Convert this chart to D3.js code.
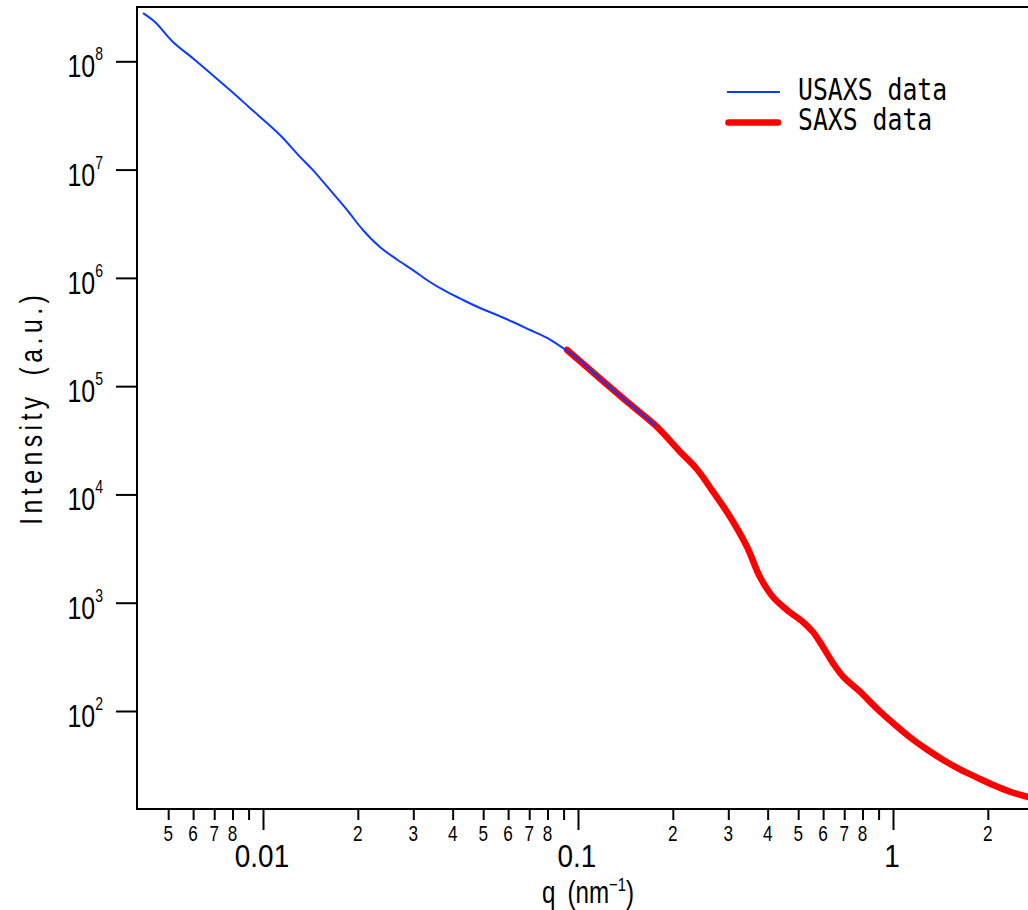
<!DOCTYPE html>
<html>
<head>
<meta charset="utf-8">
<script src="https://cdn.jsdelivr.net/npm/d3@7"></script>
<style>
  html, body { margin: 0; padding: 0; background: #ffffff; }
  svg { display: block; }
</style>
</head>
<body>
<div id="chart"></div>
<script>
// ---------------- data ----------------
const usaxsQ = [0.00416, 0.00454, 0.00518, 0.00608, 0.00785, 0.00909, 0.01132, 0.01311, 0.01441,
  0.01632, 0.01848, 0.02076, 0.02351, 0.02663, 0.02993, 0.03389, 0.03839, 0.04314, 0.04886,
  0.05532, 0.06219, 0.07045, 0.07976, 0.08958, 0.0993, 0.1174, 0.1441, 0.1768];
const usaxsI = [2.79e8, 2.31e8, 1.51e8, 1.03e8, 5.43e7, 3.71e7, 2.09e7, 1.31e7, 9.9e6,
  6.49e6, 4.24e6, 2.77e6, 1.93e6, 1.478e6, 1.18e6, 9.16e5, 7.41e5, 6.25e5, 5.27e5,
  4.54e5, 3.91e5, 3.30e5, 2.79e5, 2.25e5, 1.82e5, 1.177e5, 7.06e4, 4.29e4];

const saxsQ = [0.0923, 0.1174, 0.1441, 0.1768, 0.2109, 0.2387, 0.2683, 0.3038, 0.3439,
  0.3782, 0.4159, 0.4607, 0.5179, 0.5572, 0.5995, 0.6449, 0.6955, 0.7856, 0.8876, 1.002,
  1.132, 1.279, 1.444, 1.632, 1.844, 2.082, 2.352, 2.658, 2.9];
const saxsI = [2.16e5, 1.177e5, 7.06e4, 4.29e4, 2.48e4, 1.71e4, 1.06e4, 6.23e3, 3.29e3,
  1728, 1129, 857, 664, 536, 390, 277, 207, 150.7, 105.9, 76.97,
  57.2, 44.3, 35.3, 28.9, 24.4, 20.7, 17.97, 16.2, 15.1];

const seriesNames = ["USAXS data", "SAXS data"];
const yTickValues = [1e2, 1e3, 1e4, 1e5, 1e6, 1e7, 1e8];
const yTickExponents = ["2", "3", "4", "5", "6", "7", "8"];
const xMajorTicks = [0.01, 0.1, 1];
const xMajorLabels = ["0.01", "0.1", "1"];
const xMinorMultipliers = [2, 3, 4, 5, 6, 7, 8, 9];
const xMinorLabelled = [2, 3, 4, 5, 6, 7, 8];
const xDecades = [0.001, 0.01, 0.1, 1];
const xTitleMain = "q\u2002(nm";
const xTitleSup = "\u22121";
const yTitle = "Intensity\u2002(a.u.)";

// ---------------- layout ----------------
const W = 1028, H = 910;
const pLeft = 137, pTop = 7, pRight = 1028, pBottom = 809;
const xDomain = [Math.pow(10, -2.4), Math.pow(10, 0.42857)];
const yDomain = [Math.pow(10, 1.0949), Math.pow(10, 8.5016)];
const SX = 0.78;
const numFont = "'Liberation Sans', Arial, sans-serif";

const svg = d3.select("#chart").append("svg")
  .attr("width", W).attr("height", H)
  .attr("viewBox", `0 0 ${W} ${H}`);

const x = d3.scaleLog().domain(xDomain).range([pLeft, pRight]);
const y = d3.scaleLog().domain(yDomain).range([pBottom, pTop]);

svg.append("defs").append("clipPath").attr("id", "plotclip")
  .append("rect").attr("x", pLeft).attr("y", pTop).attr("width", pRight - pLeft + 20).attr("height", pBottom - pTop);

// ---------------- y axis ----------------
const yAxis = d3.axisLeft(y).tickValues(yTickValues).tickSize(21).tickFormat("");
const yg = svg.append("g").attr("transform", `translate(${pLeft},0)`).call(yAxis);
yg.select(".domain").remove();
yg.selectAll(".tick line").attr("stroke", "#000").attr("stroke-width", 2);

yTickValues.forEach((v, i) => {
  const g = svg.append("g").attr("transform", `translate(103,${y(v) + 16}) scale(${SX},1)`);
  const t = g.append("text").attr("text-anchor", "end")
    .attr("font-family", numFont).attr("fill", "#000");
  t.append("tspan").attr("font-size", 32).text("10");
  t.append("tspan").attr("font-size", 18).attr("dy", -17).text(yTickExponents[i]);
});

// ---------------- x axis ----------------
const minorVals = [];
xDecades.forEach(d => xMinorMultipliers.forEach(m => {
  const v = d * m;
  if (x(v) > pLeft + 4 && v < xDomain[1]) minorVals.push({ v, m });
}));

const xAxisMajor = d3.axisBottom(x).tickValues(xMajorTicks).tickSize(21).tickFormat("");
const xg = svg.append("g").attr("transform", `translate(0,${pBottom})`).call(xAxisMajor);
xg.select(".domain").remove();
xg.selectAll(".tick line").attr("stroke", "#000").attr("stroke-width", 2);

const xAxisMinor = d3.axisBottom(x).tickValues(minorVals.map(d => d.v)).tickSize(11).tickFormat("");
const xgm = svg.append("g").attr("transform", `translate(0,${pBottom})`).call(xAxisMinor);
xgm.select(".domain").remove();
xgm.selectAll(".tick line").attr("stroke", "#000").attr("stroke-width", 2);

minorVals.filter(d => xMinorLabelled.includes(d.m)).forEach(d => {
  svg.append("g").attr("transform", `translate(${x(d.v)},841) scale(${SX},1)`)
    .append("text").attr("text-anchor", "middle").attr("font-family", numFont)
    .attr("font-size", 22).attr("fill", "#000").text(String(d.m));
});

xMajorTicks.forEach((v, i) => {
  svg.append("g").attr("transform", `translate(${x(v) - 1},867) scale(0.9,1)`)
    .append("text").attr("text-anchor", "middle").attr("font-family", numFont)
    .attr("font-size", 31).attr("fill", "#000").text(xMajorLabels[i]);
});

// ---------------- frame ----------------
svg.append("line").attr("x1", pLeft).attr("x2", pRight).attr("y1", pTop).attr("y2", pTop)
  .attr("stroke", "#000").attr("stroke-width", 2);
svg.append("line").attr("x1", pLeft).attr("x2", pLeft).attr("y1", pTop - 1).attr("y2", pBottom + 1)
  .attr("stroke", "#000").attr("stroke-width", 2);
svg.append("line").attr("x1", pLeft - 1).attr("x2", pRight).attr("y1", pBottom).attr("y2", pBottom)
  .attr("stroke", "#000").attr("stroke-width", 2);

// ---------------- titles ----------------
const xt = svg.append("g").attr("transform", `translate(588,903) scale(${SX},1)`)
  .append("text").attr("text-anchor", "middle").attr("font-family", numFont).attr("fill", "#000");
xt.append("tspan").attr("font-size", 31).text(xTitleMain);
xt.append("tspan").attr("font-size", 19).attr("dy", -12).text(xTitleSup);
xt.append("tspan").attr("font-size", 31).attr("dy", 12).text(")");

svg.append("g").attr("transform", `translate(42,410) rotate(-90) scale(0.8,1)`)
  .append("text").attr("text-anchor", "middle").attr("font-family", numFont)
  .attr("font-size", 31).attr("fill", "#000")
  .attr("textLength", 287).attr("lengthAdjust", "spacing")
  .text(yTitle);

// ---------------- data lines ----------------
const line = d3.line().x(d => x(d[0])).y(d => y(d[1])).curve(d3.curveCatmullRom.alpha(0.5));
const usaxs = usaxsQ.map((q, i) => [q, usaxsI[i]]);
const saxs = saxsQ.map((q, i) => [q, saxsI[i]]);

const plot = svg.append("g").attr("clip-path", "url(#plotclip)");
plot.append("path").datum(saxs).attr("d", line)
  .attr("fill", "none").attr("stroke", "#ff0000").attr("stroke-width", 6.5)
  .attr("stroke-linecap", "round").attr("stroke-linejoin", "round");
plot.append("path").datum(usaxs).attr("d", line)
  .attr("fill", "none").attr("stroke", "#0a3cff").attr("stroke-width", 2)
  .attr("stroke-linejoin", "round");

// ---------------- legend ----------------
const legendFont = "'DejaVu Sans Mono', 'Liberation Mono', monospace";
svg.append("line").attr("x1", 727).attr("x2", 780).attr("y1", 92).attr("y2", 92)
  .attr("stroke", "#0a3cff").attr("stroke-width", 2);
svg.append("line").attr("x1", 728.5).attr("x2", 778).attr("y1", 122.5).attr("y2", 122.5)
  .attr("stroke", "#ff0000").attr("stroke-width", 6.5).attr("stroke-linecap", "round");
svg.append("g").attr("transform", `translate(798,100) scale(0.84,1)`)
  .append("text").attr("font-family", legendFont).attr("font-size", 29.5).attr("fill", "#000")
  .text(seriesNames[0]);
svg.append("g").attr("transform", `translate(798,130) scale(0.84,1)`)
  .append("text").attr("font-family", legendFont).attr("font-size", 29.5).attr("fill", "#000")
  .text(seriesNames[1]);
</script>
</body>
</html>
